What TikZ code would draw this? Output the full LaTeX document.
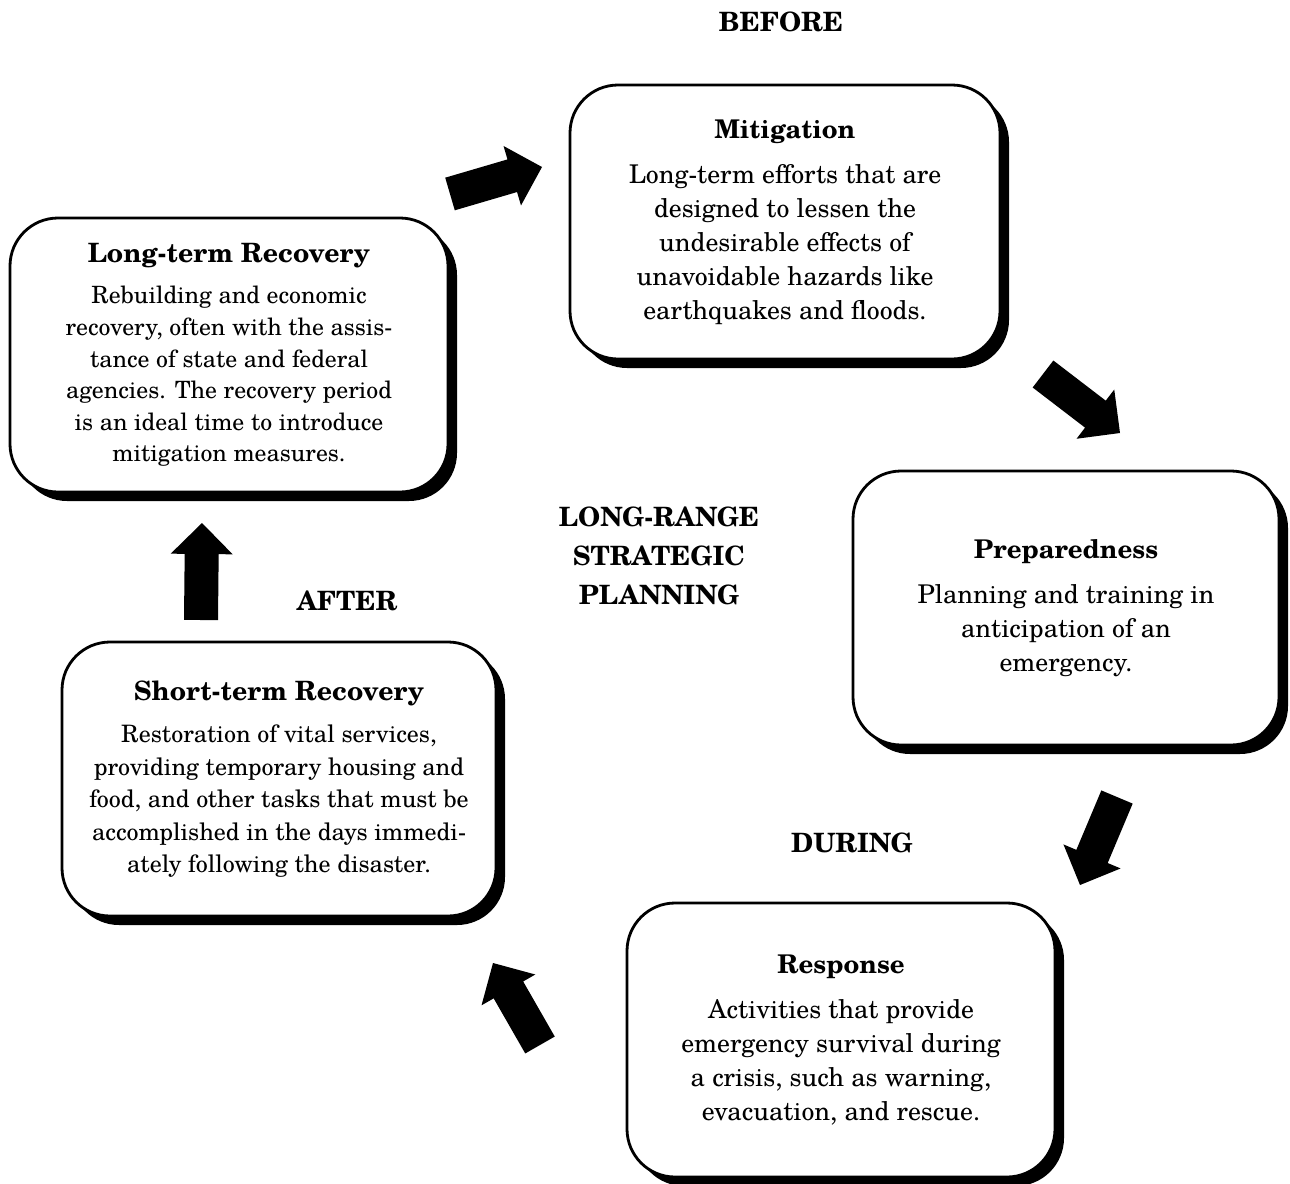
\documentclass[tikz,border=0pt]{standalone}
\usepackage{fontspec}
\setmainfont{texgyreschola}[Extension=.otf, UprightFont=*-regular,
  BoldFont=*-bold, ItalicFont=*-italic, BoldItalicFont=*-bolditalic]
\usetikzlibrary{calc, shadows}

% fat filled arrow from coordinate #1 (tail) to coordinate #2 (tip)
\newcommand\blockarrow[2]{%
  \coordinate (#1b) at ($(#2)!15.5pt!(#1)$);
  \fill ($(#1)!8.5pt!90:(#2)$) -- ($(#1b)!8.5pt!90:(#2)$)
     -- ($(#1b)!15.5pt!90:(#2)$) -- (#2)
     -- ($(#1b)!15.5pt!-90:(#2)$) -- ($(#1b)!8.5pt!-90:(#2)$)
     -- ($(#1)!8.5pt!-90:(#2)$) -- cycle;}

\begin{document}
\begin{tikzpicture}[
  x=0.5pt, y=-0.5pt,
  phase/.style={draw, line width=1.4pt, rounded corners=24pt, fill=white,
                minimum width=215pt, minimum height=137pt, align=center,
                inner sep=0pt,
                drop shadow={shadow xshift=4.5pt, shadow yshift=-4.5pt,
                             fill=black, opacity=1},
                font=\fontsize{12.9}{17}\selectfont},
  ttl/.style={font=\fontsize{13.3}{19.5}\selectfont\bfseries, align=center}
]
\useasboundingbox (0,0) rectangle (1290,1183);
% phases
\node[phase] (mit) at (785,222) {\textbf{Mitigation}\\[5.5pt]
  Long-term efforts that are\\ designed to lessen the\\
  undesirable effects of\\ unavoidable hazards like\\
  earthquakes and floods.};
\node[phase, minimum width=219pt, font=\fontsize{11.9}{15.8}\selectfont] (ltr) at (229,355)
  {{\fontsize{13.3}{15.8}\selectfont\bfseries Long-term Recovery}\\[5pt]
  Rebuilding and economic\\ recovery, often with the assis-\\
  tance of state and federal\\ agencies. The recovery period\\
  is an ideal time to introduce\\ mitigation measures.};
\node[phase, minimum width=213pt] (prep) at (1066,608) {\textbf{Preparedness}\\[5.5pt]
  Planning and training in\\ anticipation of an\\ emergency.};
\node[phase, minimum width=217pt, font=\fontsize{12}{16.25}\selectfont] (str) at (279,779)
  {{\fontsize{13.3}{16.25}\selectfont\bfseries Short-term Recovery}\\[5pt]
  Restoration of vital services,\\ providing temporary housing and\\
  food, and other tasks that must be\\ accomplished in the days immedi-\\
  ately following the disaster.};
\node[phase, minimum width=214pt] (resp) at (841,1040) {\textbf{Response}\\[5.5pt]
  Activities that provide\\ emergency survival during\\
  a crisis, such as warning,\\ evacuation, and rescue.};
% stage labels
\node[ttl] (before) at (781,22) {BEFORE};
\node[ttl] (during) at (852,843) {DURING};
\node[ttl] (after) at (347,601) {AFTER};
\node[ttl] (plan) at (659,556) {LONG-RANGE\\ STRATEGIC\\ PLANNING};
% arrow ends
\coordinate (a1) at (450,194);  \coordinate (a1t) at (542,167);
\coordinate (a2) at (1043,374); \coordinate (a2t) at (1120,433);
\coordinate (a3) at (1117,797); \coordinate (a3t) at (1080,885);
\coordinate (a4) at (540,1045); \coordinate (a4t) at (493,963);
\coordinate (a5) at (201,620);  \coordinate (a5t) at (202,523);
% the cycle
\blockarrow{a1}{a1t}
\blockarrow{a2}{a2t}
\blockarrow{a3}{a3t}
\blockarrow{a4}{a4t}
\blockarrow{a5}{a5t}
\end{tikzpicture}
\end{document}
